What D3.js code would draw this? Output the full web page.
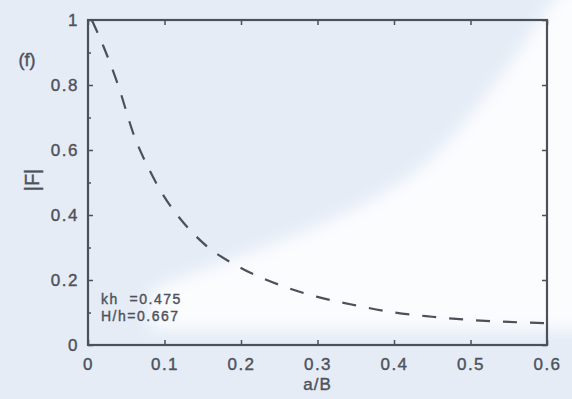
<!DOCTYPE html>
<html>
<head>
<meta charset="utf-8">
<script src="https://cdn.jsdelivr.net/npm/d3@7"></script>
<style>
  body { margin: 0; background: #e5ecf6; }
  svg { display: block; font-family: "Liberation Sans", Arial, sans-serif; }
</style>
</head>
<body>
<svg id="chart" width="572" height="399"></svg>
<script>
const width = 572, height = 399
const margin = {top: 20, right: 25, bottom: 54, left: 88}

// curve
const ratio = [0.005, 0.02, 0.04, 0.06, 0.08, 0.10, 0.12, 0.15, 0.20, 0.25, 0.30, 0.35, 0.40, 0.45, 0.50, 0.55, 0.60]
const amp   = [1.00, 0.92, 0.795, 0.646, 0.54, 0.455, 0.39, 0.315, 0.237, 0.185, 0.148, 0.122, 0.100, 0.087, 0.077, 0.071, 0.067]

const xTicks = [0, 0.1, 0.2, 0.3, 0.4, 0.5, 0.6]
const yTicks = [0, 0.2, 0.4, 0.6, 0.8, 1]
const yMinor = [0.1, 0.3, 0.5, 0.7, 0.9]
const notes = ["kh  =0.475", "H/h=0.667"]

const ink = "#4b5059"
const txt = "#4d525b"
const svg = d3.select('#chart')

// pale watermark backdrop (white patch lower right)
const defs = svg.append('defs')
defs.append('filter').attr('id', 'soft').append('feGaussianBlur').attr('stdDeviation', 8)
svg.append('path')
    .attr('d', 'M150,290 C250,250 360,220 430,160 C480,110 520,50 560,-10 L600,-10 L600,330 L150,330 Z')
    .attr('fill', '#fbfcfe')
    .attr('filter', 'url(#soft)')

const x = d3.scaleLinear().domain([0, 0.6]).range([margin.left, width - margin.right])
const y = d3.scaleLinear().domain([0, 1]).range([height - margin.bottom, margin.top])

const fmt = d => d === 0 ? "0" : d === 1 ? "1" : d3.format(".1f")(d)

// scanned look: text a little heavier than regular
const heavy = s => s.attr('fill', txt).attr('stroke', txt).attr('stroke-width', 0.4)

const styleTicks = g => {
    g.select('.domain').remove()
    g.selectAll('line').attr('stroke', ink).attr('stroke-width', 1.5)
    g.selectAll('text').attr('font-size', 17).attr('letter-spacing', 1.5).call(heavy)
}

// bottom axis
svg.append('g')
    .attr('transform', `translate(0,${y(0)})`)
    .call(d3.axisBottom(x).tickValues(xTicks).tickSize(-5).tickPadding(13).tickFormat(fmt))
    .call(styleTicks)

// top axis
svg.append('g')
    .attr('transform', `translate(0,${y(1)})`)
    .call(d3.axisTop(x).tickValues(xTicks).tickSize(-5).tickFormat(''))
    .call(styleTicks)

// left axis
svg.append('g')
    .attr('transform', `translate(${x(0)},0)`)
    .call(d3.axisLeft(y).tickValues(yTicks).tickSize(-5).tickPadding(9).tickFormat(fmt))
    .call(styleTicks)

svg.append('g')
    .attr('transform', `translate(${x(0)},0)`)
    .call(d3.axisLeft(y).tickValues(yMinor).tickSize(-3).tickFormat(''))
    .call(styleTicks)

// right axis
svg.append('g')
    .attr('transform', `translate(${x(0.6)},0)`)
    .call(d3.axisRight(y).tickValues(yTicks).tickSize(-5).tickFormat(''))
    .call(styleTicks)

// frame
svg.append('rect')
    .attr('x', x(0)).attr('y', y(1))
    .attr('width', x(0.6) - x(0)).attr('height', y(0) - y(1))
    .attr('fill', 'none').attr('stroke', ink).attr('stroke-width', 2.2)

// dashed curve
const line = d3.line().x((d, i) => x(ratio[i])).y(d => y(d)).curve(d3.curveMonotoneX)
svg.append('path')
    .attr('d', line(amp))
    .attr('fill', 'none')
    .attr('stroke', ink)
    .attr('stroke-width', 2.2)
    .attr('stroke-dasharray', '14,13')

// labels
svg.append('text')
    .attr('x', x(0.3)).attr('y', 390)
    .attr('text-anchor', 'middle').attr('font-size', 17).attr('letter-spacing', 1)
    .call(heavy)
    .text('a/B')

svg.append('text')
    .attr('transform', 'translate(39,180) rotate(-90)')
    .attr('text-anchor', 'middle').attr('font-size', 20)
    .call(heavy)
    .text('|F|')

svg.append('text')
    .attr('x', 27).attr('y', 66)
    .attr('text-anchor', 'middle').attr('font-size', 18)
    .call(heavy)
    .text('(f)')

svg.selectAll('.note')
    .data(notes)
    .join('text')
    .attr('class', 'note')
    .attr('x', 101).attr('y', (d, i) => 304 + i * 17)
    .attr('font-size', 14).attr('letter-spacing', 1.5)
    .call(heavy)
    .attr('xml:space', 'preserve')
    .text(d => d)
</script>
</body>
</html>
